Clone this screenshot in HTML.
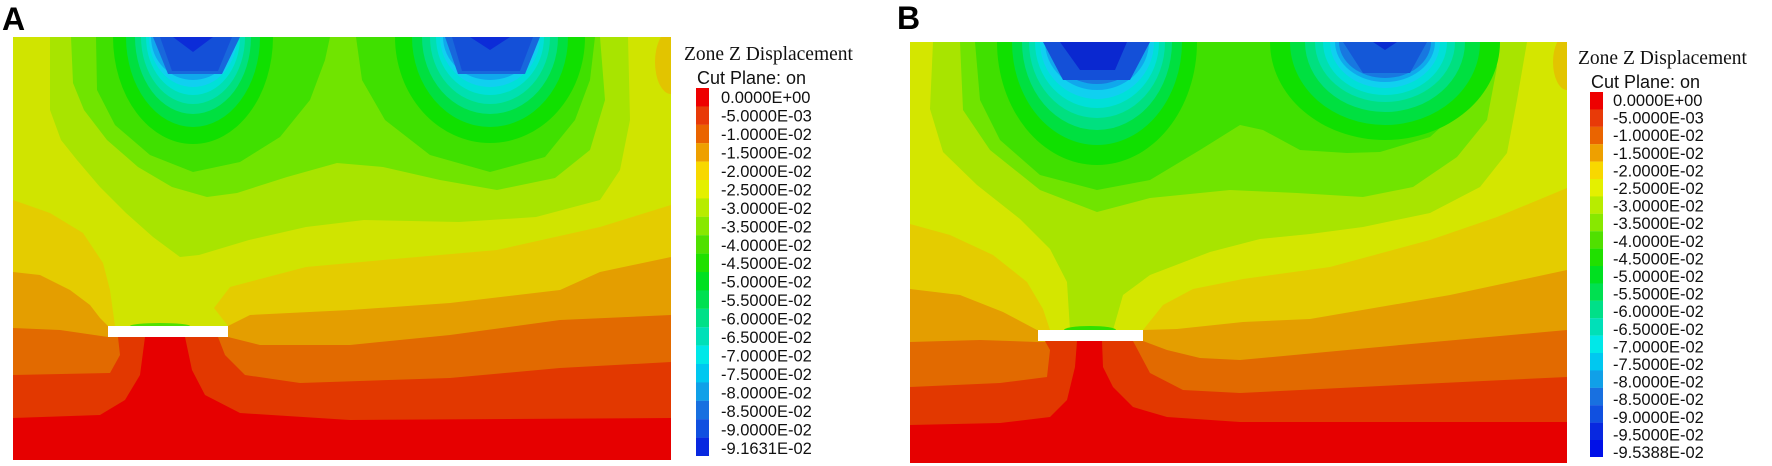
<!DOCTYPE html>
<html><head><meta charset="utf-8"><style>
html,body{margin:0;padding:0;background:#fff;}
svg{display:block;}
.t{font-family:"Liberation Serif",serif;font-size:19.5px;fill:#111;}
.s{font-family:"Liberation Sans",sans-serif;font-size:18px;fill:#111;}
.l{font-family:"Liberation Sans",sans-serif;font-size:16.5px;fill:#111;}
.big{font-family:"Liberation Sans",sans-serif;font-size:32px;font-weight:bold;fill:#000;}
</style></head><body>
<svg width="1772" height="466" viewBox="0 0 1772 466" xmlns="http://www.w3.org/2000/svg">
<defs>
<clipPath id="ca"><rect x="13" y="37" width="658" height="423"/></clipPath>
<clipPath id="cb"><rect x="910" y="42" width="657" height="421"/></clipPath>
</defs>
<text class="big" x="2" y="30">A</text>
<text class="big" x="897" y="29">B</text>

<!-- Panel A -->
<g clip-path="url(#ca)">
<rect x="13" y="37" width="658" height="423" fill="#d0e400"/>
<ellipse cx="671" cy="62" rx="16" ry="32" fill="#e2c400"/>
<polygon fill="#a8e400" points="50,37 50,110 61,140 77,160 100,187 126,213 153,237 180,257 199,255 249,240 306,227 364,220 459,222 536,217 600,200 620,170 630,120 628,37"/>
<polygon fill="#70e400" points="71,37 73,83 84,110 107,140 138,167 172,187 207,197 237,193 287,177 337,163 383,167 440,180 497,190 555,178 590,150 605,100 600,37"/>
<polygon fill="#40e000" points="96,37 97,90 115,125 150,155 193,172 240,162 280,137 310,100 325,60 330,37"/>
<polygon fill="#40e000" points="356,37 362,80 385,120 430,155 490,172 545,157 575,120 590,80 595,37"/>
<ellipse cx="193" cy="37" rx="80" ry="107" fill="#10e000"/>
<ellipse cx="193" cy="37" rx="67" ry="90" fill="#00e040"/>
<ellipse cx="193" cy="37" rx="58" ry="77" fill="#00e080"/>
<ellipse cx="193" cy="37" rx="52" ry="67" fill="#00e0b0"/>
<ellipse cx="193" cy="37" rx="47" ry="58" fill="#00e0d8"/>
<ellipse cx="193" cy="37" rx="44" ry="50" fill="#10d0f0"/>
<ellipse cx="193" cy="37" rx="42" ry="43" fill="#10a8ec"/>
<polygon fill="#1868dc" points="153,37 168,74 222,74 240,37"/>
<polygon fill="#1450d8" points="160,37 172,71 218,71 232,37"/>
<polygon fill="#0c2cd8" points="173,37 193,52 213,37"/>
<ellipse cx="490" cy="37" rx="95" ry="106" fill="#10e000"/>
<ellipse cx="490" cy="37" rx="78" ry="90" fill="#00e040"/>
<ellipse cx="490" cy="37" rx="68" ry="77" fill="#00e080"/>
<ellipse cx="490" cy="37" rx="60" ry="67" fill="#00e0b0"/>
<ellipse cx="490" cy="37" rx="54" ry="58" fill="#00e0d8"/>
<ellipse cx="490" cy="37" rx="50" ry="50" fill="#10d0f0"/>
<ellipse cx="490" cy="37" rx="47" ry="43" fill="#10a8ec"/>
<polygon fill="#1868dc" points="445,37 458,74 525,74 540,37"/>
<polygon fill="#1450d8" points="452,37 462,71 520,71 533,37"/>
<polygon fill="#0c2cd8" points="470,37 490,50 510,37"/>
<polygon fill="#e4cc00" points="13,200 50,213 83,233 103,263 110,290 115,326 228,326 214,308 230,287 306,267 383,260 497,250 600,227 671,205 671,460 13,460"/>
<polygon fill="#e49e00" points="13,272 40,275 70,290 90,305 100,318 108,326 228,326 250,315 350,310 450,303 560,290 600,272 671,257 671,460 13,460"/>
<polygon fill="#e26a00" points="13,328 60,330 108,337 228,337 260,345 350,345 450,335 560,320 671,315 671,460 13,460"/>
<polygon fill="#e23800" points="13,375 110,373 120,355 118,337 218,337 225,355 245,375 300,383 450,378 560,368 671,362 671,460 13,460"/>
<polygon fill="#e60000" points="13,418 100,415 125,400 140,375 145,337 185,337 192,370 205,395 240,413 350,420 671,418 671,460 13,460"/>
<ellipse cx="160" cy="326" rx="30" ry="3" fill="#50e000"/>
<rect x="108" y="326" width="120" height="11" fill="#fff"/>
</g>

<!-- Legend A -->
<text class="t" x="684" y="60">Zone Z Displacement</text>
<text class="s" x="697" y="84">Cut Plane: on</text>
<g>
<rect x="696" y="88.0" width="13" height="18.5" fill="#ee0000"/>
<rect x="696" y="106.4" width="13" height="18.5" fill="#e83a08"/>
<rect x="696" y="124.8" width="13" height="18.5" fill="#ea6400"/>
<rect x="696" y="143.2" width="13" height="18.5" fill="#eea000"/>
<rect x="696" y="161.6" width="13" height="18.5" fill="#f8d800"/>
<rect x="696" y="180.0" width="13" height="18.5" fill="#e4f000"/>
<rect x="696" y="198.4" width="13" height="18.5" fill="#b8ec00"/>
<rect x="696" y="216.8" width="13" height="18.5" fill="#88e800"/>
<rect x="696" y="235.2" width="13" height="18.5" fill="#50e000"/>
<rect x="696" y="253.6" width="13" height="18.5" fill="#20e000"/>
<rect x="696" y="272.0" width="13" height="18.5" fill="#00e020"/>
<rect x="696" y="290.4" width="13" height="18.5" fill="#00e050"/>
<rect x="696" y="308.8" width="13" height="18.5" fill="#00e088"/>
<rect x="696" y="327.2" width="13" height="18.5" fill="#00e0b8"/>
<rect x="696" y="345.6" width="13" height="18.5" fill="#00e8e8"/>
<rect x="696" y="364.0" width="13" height="18.5" fill="#00c8f0"/>
<rect x="696" y="382.4" width="13" height="18.5" fill="#10a0e8"/>
<rect x="696" y="400.8" width="13" height="18.5" fill="#1870e0"/>
<rect x="696" y="419.2" width="13" height="18.5" fill="#1050e0"/>
<rect x="696" y="437.6" width="13" height="18.4" fill="#0828e0"/>
</g>
<g class="l">
<text x="721" y="103">0.0000E+00</text>
<text x="721" y="121.5">-5.0000E-03</text>
<text x="721" y="140">-1.0000E-02</text>
<text x="721" y="158.4">-1.5000E-02</text>
<text x="721" y="176.9">-2.0000E-02</text>
<text x="721" y="195.4">-2.5000E-02</text>
<text x="721" y="213.8">-3.0000E-02</text>
<text x="721" y="232.3">-3.5000E-02</text>
<text x="721" y="250.8">-4.0000E-02</text>
<text x="721" y="269.2">-4.5000E-02</text>
<text x="721" y="287.7">-5.0000E-02</text>
<text x="721" y="306.2">-5.5000E-02</text>
<text x="721" y="324.6">-6.0000E-02</text>
<text x="721" y="343.1">-6.5000E-02</text>
<text x="721" y="361.6">-7.0000E-02</text>
<text x="721" y="380">-7.5000E-02</text>
<text x="721" y="398.5">-8.0000E-02</text>
<text x="721" y="417">-8.5000E-02</text>
<text x="721" y="435.4">-9.0000E-02</text>
<text x="721" y="453.9">-9.1631E-02</text>
</g>

<!-- Panel B -->
<g clip-path="url(#cb)">
<rect x="910" y="42" width="657" height="421" fill="#d4e600"/>
<ellipse cx="1567" cy="62" rx="14" ry="28" fill="#e2c400"/>
<polygon fill="#a8e400" points="933,42 930,109 943,152 977,185 1020,219 1050,249 1067,282 1070,330 1113,330 1123,295 1150,275 1210,252 1260,239 1310,234 1363,227 1430,213 1480,187 1507,153 1517,100 1527,42"/>
<polygon fill="#70e400" points="960,42 963,110 990,150 1040,190 1097,212 1150,198 1230,190 1297,193 1363,197 1413,187 1457,157 1487,120 1497,67 1493,42"/>
<polygon fill="#40e000" points="975,42 980,100 1000,140 1040,175 1097,190 1150,180 1200,150 1240,125 1263,130 1300,150 1347,153 1380,152 1430,137 1463,107 1480,73 1487,42"/>
<ellipse cx="1097" cy="42" rx="100" ry="123" fill="#10e000"/>
<ellipse cx="1097" cy="42" rx="85" ry="103" fill="#00e040"/>
<ellipse cx="1097" cy="42" rx="75" ry="88" fill="#00e080"/>
<ellipse cx="1097" cy="42" rx="68" ry="76" fill="#00e0b0"/>
<ellipse cx="1097" cy="42" rx="62" ry="66" fill="#00e0d8"/>
<ellipse cx="1097" cy="42" rx="57" ry="57" fill="#10d0f0"/>
<ellipse cx="1097" cy="42" rx="52" ry="48" fill="#10a8ec"/>
<ellipse cx="1097" cy="42" rx="48" ry="42" fill="#1878e0"/>
<polygon fill="#1450d8" points="1043,42 1063,80 1130,80 1150,42"/>
<polygon fill="#0a28d0" points="1060,42 1080,70 1115,70 1127,42"/>
<ellipse cx="1385" cy="42" rx="115" ry="98" fill="#10e000"/>
<ellipse cx="1385" cy="42" rx="95" ry="83" fill="#00e040"/>
<ellipse cx="1385" cy="42" rx="80" ry="70" fill="#00e080"/>
<ellipse cx="1385" cy="42" rx="70" ry="60" fill="#00e0b0"/>
<ellipse cx="1385" cy="42" rx="62" ry="53" fill="#00e0d8"/>
<ellipse cx="1385" cy="42" rx="55" ry="46" fill="#10d0f0"/>
<ellipse cx="1385" cy="42" rx="50" ry="40" fill="#10a8ec"/>
<ellipse cx="1385" cy="42" rx="46" ry="36" fill="#1878e0"/>
<polygon fill="#1458d8" points="1343,42 1363,73 1410,73 1427,42"/>
<polygon fill="#0a2cd0" points="1373,42 1385,50 1397,42"/>
<polygon fill="#e4cc00" points="910,224 950,235 993,255 1027,282 1043,309 1050,330 1143,330 1163,305 1193,289 1243,279 1330,267 1430,240 1497,217 1567,188 1567,463 910,463"/>
<polygon fill="#e49e00" points="910,289 960,295 1003,312 1037,330 1143,330 1177,329 1243,322 1310,319 1450,295 1567,270 1567,463 910,463"/>
<polygon fill="#e26a00" points="910,342 980,340 1038,342 1143,341 1167,350 1200,358 1240,360 1400,345 1567,330 1567,463 910,463"/>
<polygon fill="#e23800" points="910,387 1000,383 1047,377 1050,350 1045,341 1133,341 1150,373 1183,390 1240,393 1400,385 1567,377 1567,463 910,463"/>
<polygon fill="#e60000" points="910,425 1000,423 1050,417 1067,400 1075,367 1077,341 1102,341 1103,367 1113,387 1133,407 1167,417 1240,422 1567,422 1567,463 910,463"/>
<ellipse cx="1090" cy="330" rx="26" ry="4" fill="#30e000"/>
<rect x="1038" y="330" width="105" height="11" fill="#fff"/>
</g>

<!-- Legend B -->
<text class="t" x="1578" y="64">Zone Z Displacement</text>
<text class="s" x="1591" y="88">Cut Plane: on</text>
<g>
<rect x="1590" y="92.0" width="13" height="17.5" fill="#ee0000"/>
<rect x="1590" y="109.4" width="13" height="17.5" fill="#e83a08"/>
<rect x="1590" y="126.8" width="13" height="17.5" fill="#ea6400"/>
<rect x="1590" y="144.2" width="13" height="17.5" fill="#eea000"/>
<rect x="1590" y="161.6" width="13" height="17.5" fill="#f8d800"/>
<rect x="1590" y="179.0" width="13" height="17.5" fill="#e4f000"/>
<rect x="1590" y="196.4" width="13" height="17.5" fill="#b8ec00"/>
<rect x="1590" y="213.8" width="13" height="17.5" fill="#88e800"/>
<rect x="1590" y="231.2" width="13" height="17.5" fill="#50e000"/>
<rect x="1590" y="248.6" width="13" height="17.5" fill="#20e000"/>
<rect x="1590" y="266.0" width="13" height="17.5" fill="#00e020"/>
<rect x="1590" y="283.4" width="13" height="17.5" fill="#00e050"/>
<rect x="1590" y="300.8" width="13" height="17.5" fill="#00e088"/>
<rect x="1590" y="318.2" width="13" height="17.5" fill="#00e0b8"/>
<rect x="1590" y="335.6" width="13" height="17.5" fill="#00e8e8"/>
<rect x="1590" y="353.0" width="13" height="17.5" fill="#00c8f0"/>
<rect x="1590" y="370.4" width="13" height="17.5" fill="#10a0e8"/>
<rect x="1590" y="387.8" width="13" height="17.5" fill="#1870e0"/>
<rect x="1590" y="405.2" width="13" height="17.5" fill="#1050e0"/>
<rect x="1590" y="422.6" width="13" height="17.5" fill="#0828e0"/>
<rect x="1590" y="440.0" width="13" height="17" fill="#0010e8"/>
</g>
<g class="l">
<text x="1613" y="106">0.0000E+00</text>
<text x="1613" y="123.6">-5.0000E-03</text>
<text x="1613" y="141.2">-1.0000E-02</text>
<text x="1613" y="158.8">-1.5000E-02</text>
<text x="1613" y="176.4">-2.0000E-02</text>
<text x="1613" y="194">-2.5000E-02</text>
<text x="1613" y="211.6">-3.0000E-02</text>
<text x="1613" y="229.2">-3.5000E-02</text>
<text x="1613" y="246.8">-4.0000E-02</text>
<text x="1613" y="264.4">-4.5000E-02</text>
<text x="1613" y="282">-5.0000E-02</text>
<text x="1613" y="299.6">-5.5000E-02</text>
<text x="1613" y="317.2">-6.0000E-02</text>
<text x="1613" y="334.8">-6.5000E-02</text>
<text x="1613" y="352.4">-7.0000E-02</text>
<text x="1613" y="370">-7.5000E-02</text>
<text x="1613" y="387.6">-8.0000E-02</text>
<text x="1613" y="405.2">-8.5000E-02</text>
<text x="1613" y="422.8">-9.0000E-02</text>
<text x="1613" y="440.4">-9.5000E-02</text>
<text x="1613" y="458">-9.5388E-02</text>
</g>
</svg>
</body></html>
